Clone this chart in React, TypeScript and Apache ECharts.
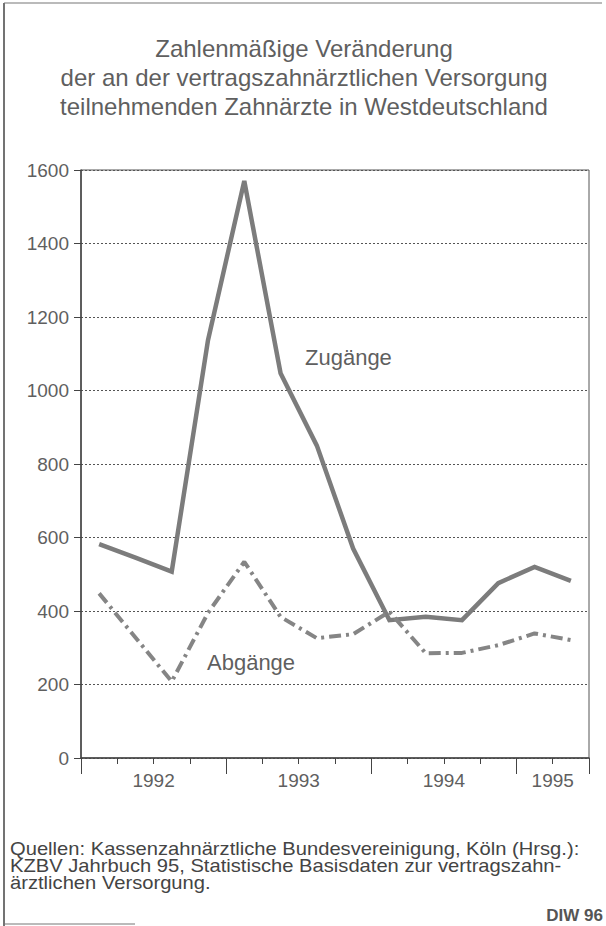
import React, { useEffect, useRef } from "react";
import * as echarts from "echarts";

// Quarterly categories (1992 I ... 1995 II)
const quarters = [
  "1992 I", "1992 II", "1992 III", "1992 IV",
  "1993 I", "1993 II", "1993 III", "1993 IV",
  "1994 I", "1994 II", "1994 III", "1994 IV",
  "1995 I", "1995 II",
];
const zugaenge = [582, 545, 507, 1137, 1570, 1047, 850, 570, 375, 384, 375, 476, 520, 482];
const abgaenge = [448, 328, 208, 395, 534, 384, 326, 337, 398, 285, 286, 307, 339, 321];
const yTicks = [0, 200, 400, 600, 800, 1000, 1200, 1400, 1600];
const yearLabels = ["1992", "1993", "1994", "1995"];

const titleLines = [
  "Zahlenmäßige Veränderung",
  "der an der vertragszahnärztlichen Versorgung",
  "teilnehmenden Zahnärzte in Westdeutschland",
];
const sourceLines = [
  "Quellen: Kassenzahnärztliche Bundesvereinigung, Köln (Hrsg.):",
  "KZBV Jahrbuch 95, Statistische Basisdaten zur vertragszahn-",
  "ärztlichen Versorgung.",
];

const FONT = "'Liberation Sans', Arial, sans-serif";

// centre of each year's quarters, in band units
const yearCenters: Record<number, string> = {};
yearLabels.forEach((y) => {
  const idx = quarters.map((q, i) => (q.startsWith(y) ? i : -1)).filter((i) => i >= 0);
  const c = (idx[0] + idx[idx.length - 1] + 1) / 2;
  yearCenters[c] = y;
});

export default function App() {
  const ref = useRef<HTMLDivElement>(null);
  useEffect(() => {
    document.body.style.margin = "0";
    const chart = echarts.init(ref.current!, null, { renderer: "svg" });
    const textColor = "#5f5f5f";
    chart.setOption({
      animation: false,
      backgroundColor: "#ffffff",
      grid: {
        left: 81,
        top: 170,
        width: 508,
        height: 588,
        show: true,
        borderColor: "#555",
        borderWidth: 1,
        backgroundColor: "transparent",
      },
      xAxis: [
        {
          type: "category",
          data: quarters,
          boundaryGap: true,
          show: false,
        },
        {
          type: "value",
          min: 0,
          max: quarters.length,
          interval: 1,
          position: "bottom",
          offset: 0,
          axisLine: { show: true, lineStyle: { color: "#444", width: 1.5 } },
          axisTick: { show: true, length: 6, lineStyle: { color: "#444", width: 1 } },
          splitLine: { show: false },
          axisLabel: {
            show: true,
            margin: 13,
            fontFamily: FONT,
            fontSize: 19,
            color: textColor,
            showMinLabel: true,
            showMaxLabel: true,
            formatter: (v: number) => yearCenters[v] ?? "",
          },
        },
        {
          type: "value",
          min: 0,
          max: quarters.length,
          interval: 4,
          position: "bottom",
          offset: 0,
          axisLine: { show: false },
          axisTick: { show: true, length: 16, lineStyle: { color: "#444", width: 1 } },
          splitLine: { show: false },
          axisLabel: { show: false },
        },
      ],
      yAxis: {
        type: "value",
        min: 0,
        max: 1600,
        interval: 200,
        axisLine: { show: true, lineStyle: { color: "#444", width: 1.5 } },
        axisTick: { show: true, length: 7, lineStyle: { color: "#444", width: 1 } },
        axisLabel: {
          margin: 12,
          fontFamily: FONT,
          fontSize: 19,
          color: textColor,
          formatter: (v: number) => (yTicks.includes(v) ? String(v) : ""),
        },
        splitLine: {
          show: true,
          lineStyle: { type: [2, 2], color: "#555", width: 1 },
        },
      },
      series: [
        {
          name: "Zugänge",
          type: "line",
          xAxisIndex: 0,
          data: zugaenge,
          showSymbol: false,
          lineStyle: { color: "#7c7c7c", width: 4.5, cap: "butt", join: "miter" },
        },
        {
          name: "Abgänge",
          type: "line",
          xAxisIndex: 0,
          data: abgaenge,
          showSymbol: false,
          lineStyle: { color: "#858585", width: 4, type: [12, 5, 3, 5], cap: "butt" },
        },
      ],
      graphic: [
        { type: "line", shape: { x1: 4, y1: 3, x2: 4, y2: 926 }, style: { stroke: "#444", lineWidth: 1.5 } },
        { type: "line", shape: { x1: 4, y1: 3, x2: 602, y2: 3 }, style: { stroke: "#777", lineWidth: 1.2 } },
        { type: "line", shape: { x1: 4, y1: 924, x2: 135, y2: 924 }, style: { stroke: "#777", lineWidth: 1.2 } },
        ...titleLines.map((t, i) => ({
          type: "text",
          x: 304,
          y: 48 + i * 29,
          style: {
            text: t,
            fontFamily: FONT,
            fontSize: 24,
            fill: textColor,
            textAlign: "center",
            textVerticalAlign: "middle",
          },
        })),
        {
          type: "text",
          x: 305,
          y: 357,
          style: { text: "Zugänge", fontFamily: FONT, fontSize: 22, fill: textColor, textVerticalAlign: "middle" },
        },
        {
          type: "text",
          x: 207,
          y: 662,
          style: { text: "Abgänge", fontFamily: FONT, fontSize: 22, fill: textColor, textVerticalAlign: "middle" },
        },
        ...sourceLines.map((t, i) => ({
          type: "text",
          x: 10,
          y: 849 + i * 17,
          scaleX: 1.12,
          style: {
            text: t,
            fontFamily: FONT,
            fontSize: 18,
            lineHeight: 17,
            fill: "#444",
            textVerticalAlign: "middle",
          },
        })),
        {
          type: "text",
          x: 603,
          y: 915,
          style: {
            text: "DIW 96",
            fontFamily: FONT,
            fontSize: 17,
            fontWeight: "bold",
            fill: "#555",
            textAlign: "right",
            textVerticalAlign: "middle",
          },
        },
      ],
    });
    return () => chart.dispose();
  }, []);
  return <div ref={ref} style={{ width: 606, height: 926 }} />;
}
